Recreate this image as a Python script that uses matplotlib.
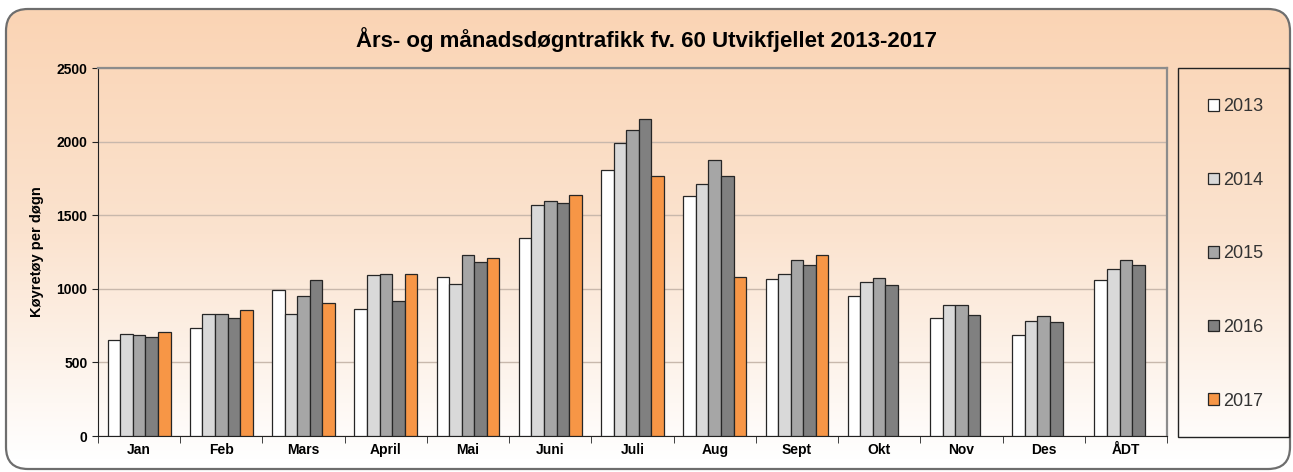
import numpy as np
import matplotlib.pyplot as plt
from matplotlib.patches import FancyBboxPatch, Rectangle
from matplotlib.colors import LinearSegmentedColormap

plt.rcParams['font.family'] = ['Liberation Sans', 'DejaVu Sans']

months = ["Jan", "Feb", "Mars", "April", "Mai", "Juni", "Juli", "Aug", "Sept",
          "Okt", "Nov", "Des", "ÅDT"]
years = ["2013", "2014", "2015", "2016", "2017"]

v2013 = [655, 734, 992, 863, 1080, 1345, 1807, 1630, 1066, 951, 802, 686, 1060]
v2014 = [695, 829, 829, 1094, 1033, 1570, 1990, 1712, 1100, 1046, 890, 781, 1134]
v2015 = [686, 829, 951, 1100, 1230, 1596, 2079, 1875, 1196, 1073, 890, 815, 1196]
v2016 = [673, 802, 1060, 917, 1182, 1583, 2153, 1766, 1162, 1026, 822, 774, 1162]
v2017 = [707, 856, 903, 1100, 1210, 1637, 1766, 1080, 1230, np.nan, np.nan, np.nan, np.nan]
series = [v2013, v2014, v2015, v2016, v2017]
colors = ["#FFFFFF", "#D9D9D9", "#A6A6A6", "#808080", "#F79646"]

W, H = 1293, 472
fig = plt.figure(figsize=(W / 100, H / 100), dpi=100)

# background: rounded box with vertical peach-to-white gradient
bg = fig.add_axes([0, 0, 1, 1])
bg.set_xlim(0, W)
bg.set_ylim(H, 0)
bg.axis("off")
cmap = LinearSegmentedColormap.from_list("peach", ["#FAD4B4", "#FBE3CF", "#FFFFFF"])
grad = np.linspace(0, 1, 256).reshape(-1, 1)
img = bg.imshow(grad, cmap=cmap, aspect="auto", extent=[5, 1291, 460, 8], zorder=0)
box = FancyBboxPatch((6, 9), 1284, 460, boxstyle="round,pad=0,rounding_size=22",
                     facecolor="none", edgecolor="#6E6E6E", lw=1.6, zorder=2)
bg.add_patch(box)
img.set_clip_path(box)

# legend frame
bg.add_patch(Rectangle((1178, 68), 111, 369, facecolor="none",
                       edgecolor="#222222", lw=1.0, zorder=3))

ax = fig.add_axes([98 / W, 1 - 436 / H, (1167 - 98) / W, (436 - 68) / H])
ax.patch.set_alpha(0)

x = np.arange(len(months))
bw = 0.153
for i, (vals, c, yr) in enumerate(zip(series, colors, years)):
    ax.bar(x - 2 * bw + i * bw, vals, bw, color=c, edgecolor="#262626",
           linewidth=0.9, label=yr, zorder=3)

ax.set_xlim(-0.5, len(months) - 0.5)
ax.set_ylim(0, 2500)
ax.set_yticks(np.arange(0, 2501, 500))
ax.yaxis.grid(True, color="#C8B8AC", lw=1.0, zorder=0)
ax.set_xticks(x)
ax.set_xticklabels(months, fontsize=10, fontweight="bold")
ax.set_xticks(np.arange(-0.5, len(months)), minor=True)
ax.tick_params(axis="x", which="major", length=0, pad=5)
ax.tick_params(axis="x", which="minor", length=5, direction="out", color="#222222")
ax.tick_params(axis="y", length=4, direction="out", labelsize=10, color="#222222")
for lab in ax.get_yticklabels():
    lab.set_fontweight("bold")
ax.set_ylabel("Køyretøy per døgn", fontsize=10.5, fontweight="bold", labelpad=9)
for s in ["top", "right"]:
    ax.spines[s].set_color("#8C8C8C")
    ax.spines[s].set_linewidth(1.6)
ax.spines["left"].set_color("#222222")
ax.spines["bottom"].set_color("#222222")

fig.text(0.5, 1 - 40 / H, "Års- og månadsdøgntrafikk fv. 60 Utvikfjellet 2013-2017",
         ha="center", va="center", fontsize=16, fontweight="bold")

ax.legend(loc="center", bbox_to_anchor=(1236 / W, 1 - 254 / H),
          bbox_transform=fig.transFigure, frameon=False, fontsize=13,
          labelspacing=3.13, handlelength=0.6, handleheight=0.6,
          handletextpad=0.25, labelcolor="#333333")

fig.savefig("out.png", dpi=100)
